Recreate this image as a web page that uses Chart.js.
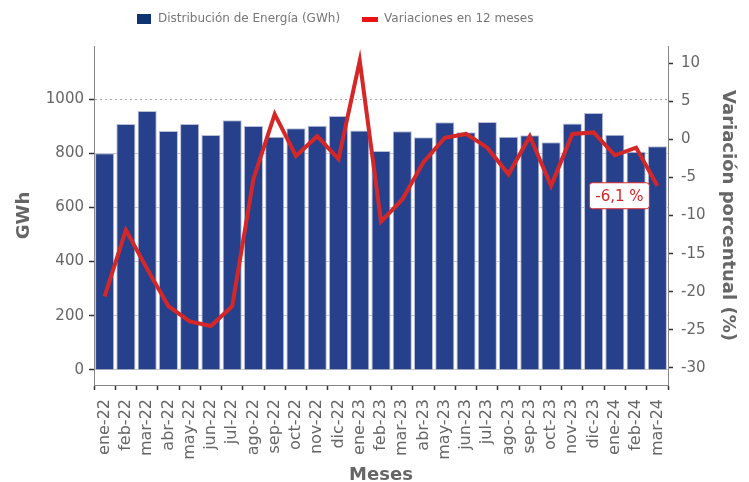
<!DOCTYPE html>
<html lang="es">
<head>
<meta charset="utf-8">
<title>Distribución de Energía</title>
<script src="https://cdn.jsdelivr.net/npm/chart.js@4.4.1/dist/chart.umd.min.js"></script>
<style>
  html, body { margin: 0; padding: 0; background: #fff; }
  #wrap { width: 749px; height: 482px; }
</style>
</head>
<body>
<div id="wrap"><canvas id="grafico" width="749" height="482"></canvas></div>
<script>
// Datos
const meses = ["ene-22", "feb-22", "mar-22", "abr-22", "may-22", "jun-22", "jul-22", "ago-22", "sep-22",
    "oct-22", "nov-22", "dic-22", "ene-23", "feb-23", "mar-23", "abr-23", "may-23", "jun-23",
    "jul-23", "ago-23", "sep-23", "oct-23", "nov-23", "dic-23", "ene-24", "feb-24", "mar-24"];
const energiaGWh = [800, 908, 956, 882, 908, 867, 922, 900, 861,
    892, 901, 937, 884, 808, 881, 859, 914, 877,
    915, 861, 866, 840, 910, 948, 868, 805, 826];
const variacion12m = [-20.6, -11.9, -17.0, -21.9, -23.9, -24.5, -21.9, -5.2, 3.3,
    -2.2, 0.4, -2.6, 10.3, -10.8, -7.9, -3.0, 0.2, 0.7,
    -1.1, -4.6, 0.4, -6.1, 0.7, 0.9, -2.1, -1.1, -6.1];
const ticksGWh = [0, 200, 400, 600, 800, 1000];
const ticksVar = [-30, -25, -20, -15, -10, -5, 0, 5, 10];
const etiquetaUltima = "-6,1 %";

const AZUL = "#27408b";
const ROJO = "#d62728";
const GRIS = "#666";

Chart.defaults.font.family = "'DejaVu Sans', sans-serif";
Chart.defaults.color = GRIS;

// iconos de la leyenda (cuadro azul y barra roja)
function icono(w, h, color) {
    const c = document.createElement("canvas");
    c.width = w; c.height = h;
    const g = c.getContext("2d");
    g.fillStyle = color;
    g.fillRect(0, 0, w, h);
    return c;
}
const iconosLeyenda = [icono(14, 10, "#0f3474"), icono(16, 5, "#ee1111")];

// recuadro con el último valor
const etiquetaFinal = {
    id: "etiquetaFinal",
    afterDatasetsDraw(chart) {
        const meta = chart.getDatasetMeta(1);
        const p = meta.data[meta.data.length - 1];
        const ctx = chart.ctx;
        const w = 60, h = 26;
        const x = p.x - 8 - w, y = p.y - 3;
        ctx.save();
        ctx.beginPath();
        ctx.roundRect(x, y, w, h, 3);
        ctx.fillStyle = "#fff";
        ctx.fill();
        ctx.lineWidth = 1;
        ctx.strokeStyle = ROJO;
        ctx.stroke();
        ctx.fillStyle = ROJO;
        ctx.font = "15px 'DejaVu Sans'";
        ctx.textAlign = "center";
        ctx.textBaseline = "middle";
        ctx.fillText(etiquetaUltima, x + w / 2, y + h / 2 + 1);
        ctx.restore();
    }
};

// mueve la leyenda a su sitio (arriba, algo a la izquierda)
const moverLeyenda = {
    id: "moverLeyenda",
    afterLayout(chart) {
        const l = chart.legend;
        const pad = l.options.labels.padding;
        const inicio = (l.left + pad + l.right - l.lineWidths[0]) / 2;
        const dx = 136 - inicio;
        const dy = 19 - (l.top + pad + 6);
        l.left += dx; l.right += dx;
        l.top += dy; l.bottom += dy;
    }
};

new Chart(document.getElementById("grafico"), {
    type: "bar",
    data: {
        labels: meses,
        datasets: [
            {
                label: "Distribución de Energía (GWh)",
                data: energiaGWh,
                yAxisID: "y",
                backgroundColor: AZUL,
                borderColor: "#b9bfd6",
                borderWidth: { top: 1, left: 1, right: 1, bottom: 0 },
                barPercentage: 0.9,
                categoryPercentage: 1,
                order: 2
            },
            {
                type: "line",
                label: "Variaciones en 12 meses",
                data: variacion12m,
                yAxisID: "y1",
                borderColor: ROJO,
                backgroundColor: ROJO,
                borderWidth: 4,
                pointRadius: 0,
                tension: 0,
                order: 1
            }
        ]
    },
    options: {
        responsive: false,
        animation: false,
        layout: { padding: { top: 2, left: 0, right: 0, bottom: 0 } },
        plugins: {
            tooltip: { enabled: false },
            legend: {
                position: "top",
                labels: {
                    color: "#777",
                    font: { size: 12 },
                    padding: 22,
                    usePointStyle: true,
                    pointStyleWidth: 16,
                    sort: (a, b) => a.datasetIndex - b.datasetIndex,
                    generateLabels(chart) {
                        const items = Chart.defaults.plugins.legend.labels.generateLabels(chart);
                        items.forEach(it => { it.pointStyle = iconosLeyenda[it.datasetIndex]; });
                        return items;
                    }
                }
            }
        },
        scales: {
            x: {
                offset: true,
                grid: { drawOnChartArea: false, tickLength: 5, tickColor: "#333", tickWidth: 1.5 },
                border: { color: "#888", width: 1 },
                ticks: { autoSkip: false, maxRotation: 90, minRotation: 90, padding: 9, font: { size: 16 }, color: GRIS },
                title: { display: true, text: "Meses", color: GRIS, font: { size: 18, weight: "bold", lineHeight: 1 }, padding: { top: 0, bottom: -2 } },
                afterFit(scale) { scale.height = 97; }
            },
            y: {
                position: "left",
                min: -55.4,
                max: 1195.6,
                afterBuildTicks(scale) { scale.ticks = ticksGWh.map(v => ({ value: v })); },
                grid: {
                    color: ctx => (ctx.tick && ctx.tick.value === 1000) ? "#aaa" : "#c8c8c8",
                    lineWidth: 1,
                    tickLength: 5,
                    tickColor: "#333",
                    tickWidth: 1.5
                },
                border: {
                    color: "#888",
                    width: 1,
                    dash: ctx => (ctx.tick && ctx.tick.value === 1000) ? [2, 3] : []
                },
                ticks: { padding: 5, font: { size: 15 }, color: GRIS, callback: v => String(v) },
                title: { display: true, text: "GWh", color: GRIS, font: { size: 18, weight: "bold" }, padding: { top: 14, bottom: 0 } },
                afterFit(scale) { scale.width = 94; }
            },
            y1: {
                position: "right",
                min: -32.23,
                max: 12.23,
                afterBuildTicks(scale) { scale.ticks = ticksVar.map(v => ({ value: v })); },
                grid: { drawOnChartArea: false, tickLength: 5, tickColor: "#333", tickWidth: 1.5 },
                border: { color: "#888", width: 1 },
                ticks: { padding: 8, font: { size: 15 }, color: GRIS, callback: v => String(v) },
                title: { display: true, text: "Variación porcentual (%)", color: GRIS, font: { size: 18, weight: "bold" }, padding: { top: 11, bottom: 0 } },
                afterFit(scale) { scale.width = 81; }
            }
        }
    },
    plugins: [moverLeyenda, etiquetaFinal]
});
</script>
</body>
</html>
